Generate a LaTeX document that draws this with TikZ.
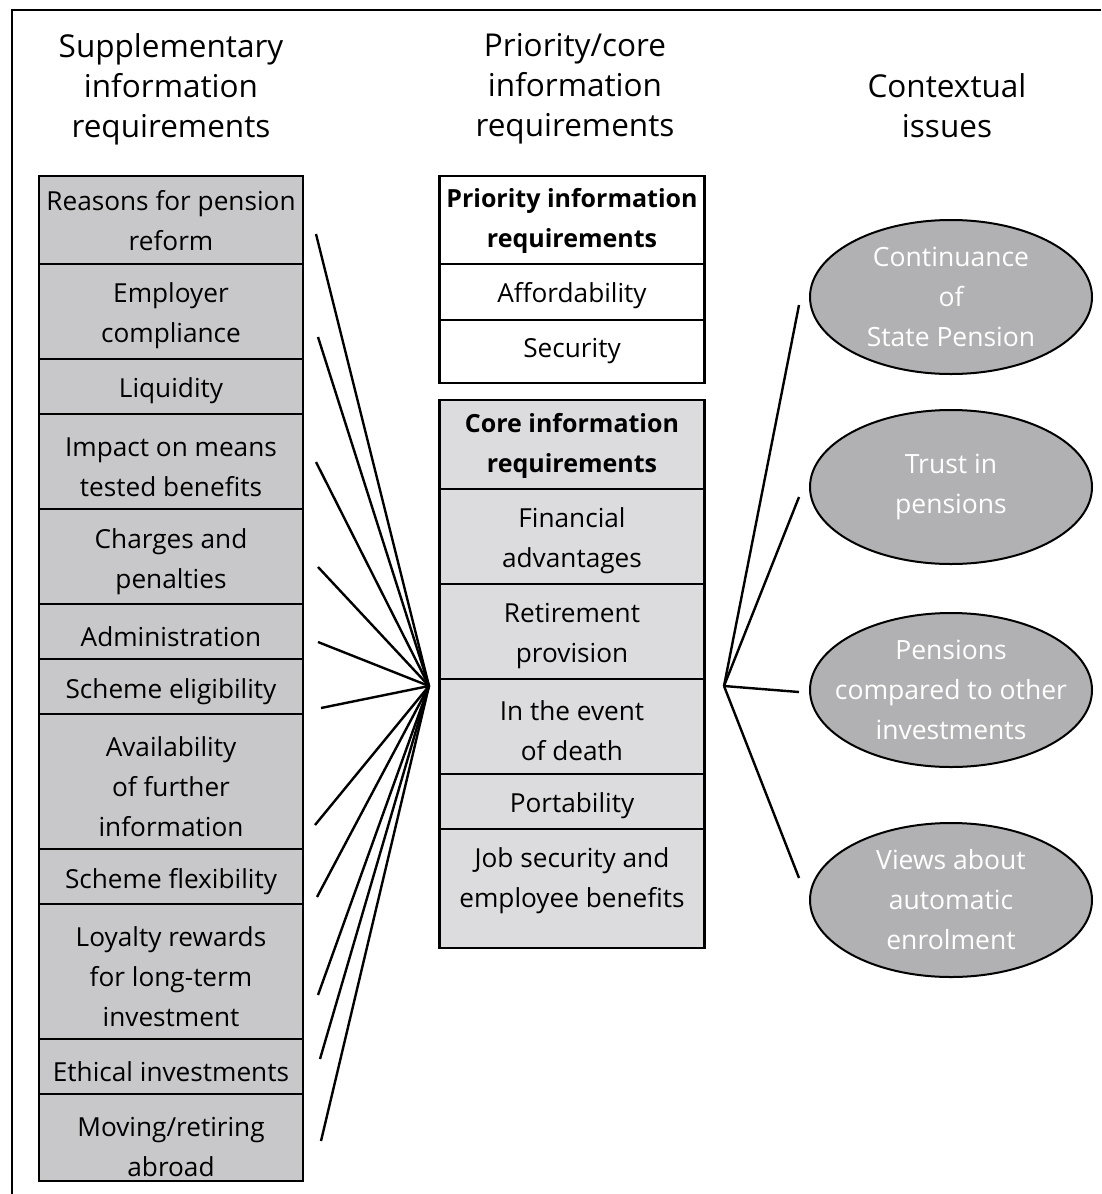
\documentclass[tikz,border=0pt]{standalone}
\usepackage{fontspec}
\setmainfont{Open Sans}
\usetikzlibrary{shapes.geometric}
\definecolor{lgray}{HTML}{C8C8CA}
\definecolor{cgray}{HTML}{DCDCDE}
\definecolor{egray}{HTML}{B1B1B3}
\newcommand\cellbox[7]{%
  \node[#5, minimum height={#4-#3}] (#1) at (#2, {(#3+#4)/2}) {};
  \node[txt] (#1t) at (#2, {#6+2}) {#7};}
\newcommand\ellnode[3]{%
  \node[ell] (#1) at (951,#2) {};
  \node[etxt] (#1t) at (951,#2) {#3};}
\begin{document}
\begin{tikzpicture}[x=1pt,y=-1pt,
  boxbase/.style={draw=black, line width=2.6pt, inner sep=0pt, outer sep=0pt},
  cellL/.style={boxbase, fill=lgray, minimum width=264},
  cellW/.style={boxbase, fill=white, minimum width=265},
  cellC/.style={boxbase, fill=cgray, minimum width=265},
  txt/.style={font=\fontsize{26.2}{40}\selectfont, align=center, inner sep=0pt},
  btxt/.style={txt, font=\fontsize{25}{40}\selectfont\bfseries},
  head/.style={font=\fontsize{31.5}{40}\selectfont, align=center, inner sep=0pt},
  ell/.style={ellipse, draw=black, line width=2pt, fill=egray,
    minimum width=282, minimum height=154, inner sep=0pt},
  etxt/.style={txt, text=white, font=\fontsize{26.5}{40}\selectfont},
  conn/.style={line width=2.4pt}]
\useasboundingbox (0,0) rectangle (1101,1194);
\fill[white] (0,0) rectangle (1101,1194);
\draw[line width=2.6pt] (12,1194) -- (12,10) -- (1101,10);

% headers
\node[head] (hL) at (171,89) {Supplementary\\information\\requirements};
\node[head] (hM) at (575,89) {Priority/core\\information\\requirements};
\node[head] (hR) at (947,106) {Contextual\\issues};

% left column
\cellbox{l1}{171}{176}{264}{cellL}{219}{Reasons for pension\\reform}
\cellbox{l2}{171}{264}{359}{cellL}{314}{Employer\\compliance}
\cellbox{l3}{171}{359}{414}{cellL}{389}{Liquidity}
\cellbox{l4}{171}{414}{509}{cellL}{465}{Impact on means\\tested benefits}
\cellbox{l5}{171}{509}{604}{cellL}{560}{Charges and\\penalties}
\cellbox{l6}{171}{604}{659}{cellL}{635}{Administration}
\cellbox{l7}{171}{659}{714}{cellL}{690}{Scheme eligibility}
\cellbox{l8}{171}{714}{849}{cellL}{785}{Availability\\of further\\information}
\cellbox{l9}{171}{849}{904}{cellL}{880}{Scheme flexibility}
\cellbox{l10}{171}{904}{1039}{cellL}{975}{Loyalty rewards\\for long-term\\investment}
\cellbox{l11}{171}{1039}{1094}{cellL}{1070}{Ethical investments}
\cellbox{l12}{171}{1094}{1181}{cellL}{1145}{Moving/retiring\\abroad}

% middle column: priority
\node[cellW, minimum height=88] (p1) at (572,220) {};
\node[btxt] (p1t) at (572,221) {Priority information\\requirements};
\cellbox{p2}{572}{264}{320}{cellW}{294}{Affordability}
\cellbox{p3}{572}{320}{383}{cellW}{349}{Security}

% middle column: core
\node[cellC, minimum height=89] (c1) at (572,444.5) {};
\node[btxt] (c1t) at (572,446) {Core information\\requirements};
\cellbox{c2}{572}{489}{584}{cellC}{539}{Financial\\advantages}
\cellbox{c3}{572}{584}{679}{cellC}{634}{Retirement\\provision}
\cellbox{c4}{572}{679}{774}{cellC}{729}{In the event\\of death}
\cellbox{c5}{572}{774}{829}{cellC}{804}{Portability}
\cellbox{c6}{572}{829}{948}{cellC}{879}{Job security and\\employee benefits}

% ellipses
\ellnode{e1}{297}{Continuance\\of\\State Pension}
\ellnode{e2}{487}{Trust in\\pensions}
\ellnode{e3}{690}{Pensions\\compared to other\\investments}
\ellnode{e4}{900}{Views about\\automatic\\enrolment}

% connectors
\coordinate (hubL) at (429,686);
\coordinate (hubR) at (724,686);
\foreach \n/\x/\y in {1/316/234, 2/318/337, 3/316/462, 4/318/567, 5/318/642,
  6/321/708, 7/315/825, 8/317/897, 9/318/995, 10/320/1059, 11/321/1141} {
  \coordinate (aL\n) at (\x,\y);
  \draw[conn] (aL\n) -- (hubL);
}
\foreach \n/\y in {1/305, 2/497, 3/692, 4/878} {
  \coordinate (aR\n) at (799,\y);
  \draw[conn] (hubR) -- (aR\n);
}
\end{tikzpicture}
\end{document}
